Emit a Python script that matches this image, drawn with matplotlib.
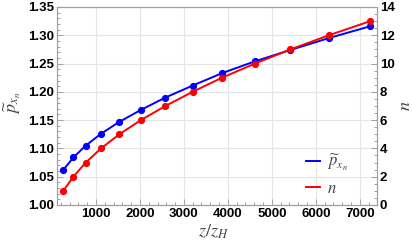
import matplotlib

matplotlib.use("Agg")
import matplotlib.pyplot as plt
from matplotlib.ticker import MultipleLocator

# z/z_H positions of the 13 sample points
z_ratio = [258, 486, 768, 1116, 1533, 2020, 2580, 3196, 3866, 4617, 5421, 6294, 7237]
# left axis: p~_{x_n}
p_tilde = [1.062, 1.084, 1.105, 1.126, 1.147, 1.168, 1.190, 1.211, 1.233,
           1.254, 1.274, 1.295, 1.316]
# right axis: n
n_vals = [1, 2, 3, 4, 5, 6, 7, 8, 9, 10, 11, 12, 13]

FRAME = "#a0a0a0"
GRID = "#e6e6e6"
LABEL = "#444444"

plt.rcParams["font.family"] = ["Liberation Sans", "DejaVu Sans"]
plt.rcParams["mathtext.fontset"] = "stix"

fig = plt.figure(figsize=(4.12, 2.48), dpi=100)
ax = fig.add_axes([0.1383, 0.1734, 0.7767, 0.7984])
ax2 = ax.twinx()

ax.plot(z_ratio, p_tilde, color="blue", lw=1.4, marker="o", ms=4.2, zorder=3)
ax2.plot(z_ratio, n_vals, color="red", lw=1.4, marker="o", ms=4.2, zorder=3)

ax.set_xlim(114, 7390)
ax.set_ylim(1.0, 1.35)
ax2.set_ylim(0, 14)

ax.xaxis.set_major_locator(MultipleLocator(1000))
ax.xaxis.set_minor_locator(MultipleLocator(200))
ax.yaxis.set_major_locator(MultipleLocator(0.05))
ax.yaxis.set_minor_locator(MultipleLocator(0.01))
ax2.yaxis.set_major_locator(MultipleLocator(2))
ax2.yaxis.set_minor_locator(MultipleLocator(0.5))
ax.yaxis.set_major_formatter(lambda v, pos: f"{v:.2f}")

ax.grid(True, which="major", color=GRID, lw=0.8)
ax.set_axisbelow(True)

for a in (ax, ax2):
    for s in a.spines.values():
        s.set_color(FRAME)
        s.set_linewidth(0.8)
    a.tick_params(which="both", direction="in", color=FRAME, labelsize=9.5,
                  labelcolor="black", width=0.7)
    a.tick_params(which="major", length=4, pad=2)
    a.tick_params(which="minor", length=2)
    for lab in a.get_xticklabels() + a.get_yticklabels():
        lab.set_fontweight("bold")
ax2.tick_params(axis="y", which="both", left=False)
ax.tick_params(axis="y", which="both", right=False)
ax.tick_params(axis="x", which="both", top=False)

# axis titles placed in figure pixels-as-fractions
fig.text(213 / 412, 1 - 232 / 248, r"$z/z_H$", fontsize=13, color=LABEL,
         ha="center", va="center")
fig.text(12.5 / 412, 1 - 103 / 248, r"$\widetilde{p}_{x_n}$", fontsize=13,
         color=LABEL, ha="center", va="center", rotation=90)
fig.text(405 / 412, 1 - 106 / 248, r"$n$", fontsize=13, color=LABEL,
         ha="center", va="center", rotation=90)

h1 = plt.Line2D([], [], color="blue", lw=1.4)
h2 = plt.Line2D([], [], color="red", lw=1.4)
ax2.legend([h1, h2], [r"$\widetilde{p}_{x_n}$", r"$n$"], loc="lower right",
           bbox_to_anchor=(0.955, -0.03), frameon=False, fontsize=12,
           handlelength=0.85, handletextpad=0.4, labelspacing=0.5,
           labelcolor=LABEL)

fig.savefig("out.png", dpi=100)
